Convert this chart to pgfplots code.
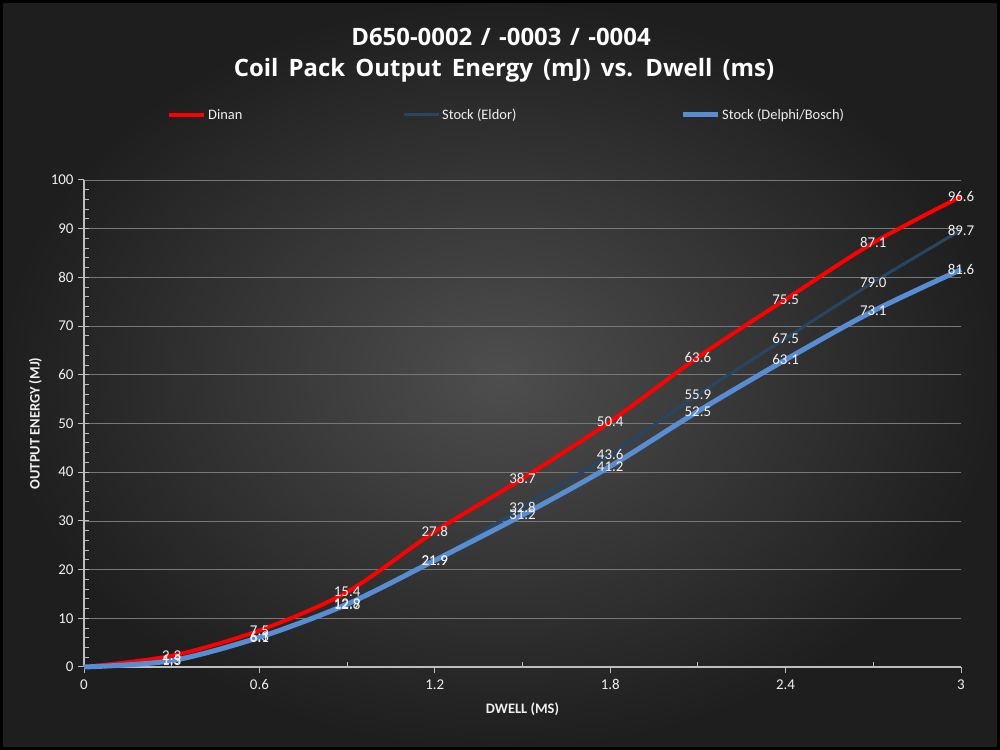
\documentclass[border=0pt]{standalone}
\usepackage{pgfplots}
\pgfplotsset{compat=1.18}
\usepackage{pgfplotstable}
\usepackage{fontspec}
\setmainfont{Carlito}
\newfontfamily\titlefont{Open Sans}
\definecolor{dinan}{RGB}{255,0,0}
\definecolor{eldor}{RGB}{38,70,100}
\definecolor{delphi}{RGB}{88,141,212}
\definecolor{gridc}{RGB}{120,120,120}
\definecolor{axc}{RGB}{190,190,190}
\definecolor{txt}{RGB}{240,240,240}

\pgfplotstableread{
x y
0 0
0.3 2.3
0.6 7.5
0.9 15.4
1.2 27.8
1.5 38.7
1.8 50.4
2.1 63.6
2.4 75.5
2.7 87.1
3.0 96.6
}\dinan
\pgfplotstableread{
x y
0 0
0.3 1.5
0.6 6.3
0.9 12.8
1.2 21.9
1.5 32.8
1.8 43.6
2.1 55.9
2.4 67.5
2.7 79.0
3.0 89.7
}\eldor
\pgfplotstableread{
x y
0 0
0.3 1.3
0.6 6.1
0.9 12.9
1.2 21.9
1.5 31.2
1.8 41.2
2.1 52.5
2.4 63.1
2.7 73.1
3.0 81.6
}\delphi

\begin{document}
\begin{tikzpicture}[x=1bp,y=1bp]
\shade[inner color={rgb,255:red,78;green,78;blue,78}, outer color={rgb,255:red,30;green,30;blue,30}] (0,0) rectangle (1000,750);
\draw[black, line width=3bp] (1.5,1.5) rectangle (998.5,748.5);
\node[text=white, font=\titlefont\bfseries\fontsize{24}{27}\selectfont] at (501,713) {D650-0002\hspace{8.5bp}/\hspace{8.5bp}-0003\hspace{8.5bp}/\hspace{8.5bp}-0004};
\node[text=white, font=\titlefont\bfseries\fontsize{24}{27}\selectfont] at (504,680) {Coil\, Pack\, Output\, Energy\, (mJ)\, vs.\, Dwell\, (ms)};
\begin{axis}[
  at={(84bp,83bp)}, anchor=origin,
  scale only axis, width=877bp, height=487bp,
  xmin=0, xmax=3, ymin=0, ymax=100,
  axis lines=left, axis line style={-, axc, line width=1.2bp},
  xtick={0,0.6,1.2,1.8,2.4,3}, xticklabels={0,0.6,1.2,1.8,2.4,3},
  minor xtick={0.3,0.9,1.5,2.1,2.7},
  ytick={0,10,...,100}, minor ytick={2,4,...,98},
  tick align=outside, major tick length=6bp, minor tick length=5bp,
  tick style={axc, line width=1bp},
  minor x tick style={yshift=5bp}, minor y tick style={xshift=5bp},
  ymajorgrids, major grid style={gridc, line width=0.6bp},
  /pgf/number format/assume math mode=true,
  ticklabel style={text=txt, font=\fontsize{15}{17}\selectfont},
  xticklabel style={yshift=-3bp},
  yticklabel style={xshift=-1bp},
  xlabel={\textbf{DWELL (MS)}}, ylabel={\textbf{OUTPUT ENERGY (MJ)}},
  label style={text=txt, font=\fontsize{14.5}{16}\selectfont},
  xlabel style={yshift=-6bp},
  ylabel style={yshift=2bp},
  clip=false,
  legend style={at={(83bp,552bp)}, anchor=west, draw=none, fill=none,
    text=txt, font=\fontsize{14.5}{16}\selectfont, inner sep=0pt,
    /tikz/every even column/.append style={column sep=0pt}},
  legend columns=3,
  legend cell align=left,
  legend image code/.code={\draw[#1] (0bp,0bp) -- (35bp,0bp);},
  every node near coord/.append style={text=txt, font=\fontsize{15}{17}\selectfont, anchor=center},
  nodes near coords style={/pgf/number format/.cd, fixed, fixed zerofill, precision=1},
]
\addplot[dinan, line width=4bp, smooth, tension=0.5] table {\dinan};
\addlegendentry{\makebox[192bp][l]{Dinan}}
\addplot[eldor, line width=3bp, smooth, tension=0.5] table {\eldor};
\addlegendentry{\makebox[236bp][l]{Stock (Eldor)}}
\addplot[delphi, line width=5bp, smooth, tension=0.5] table {\delphi};
\addlegendentry{Stock (Delphi/Bosch)}
\addplot[draw=none, forget plot, nodes near coords, skip coords between index={0}{1}] table {\eldor};
\addplot[draw=none, forget plot, nodes near coords, skip coords between index={0}{1}] table {\delphi};
\addplot[draw=none, forget plot, nodes near coords, skip coords between index={0}{1}] table {\dinan};
\end{axis}
\end{tikzpicture}
\end{document}
